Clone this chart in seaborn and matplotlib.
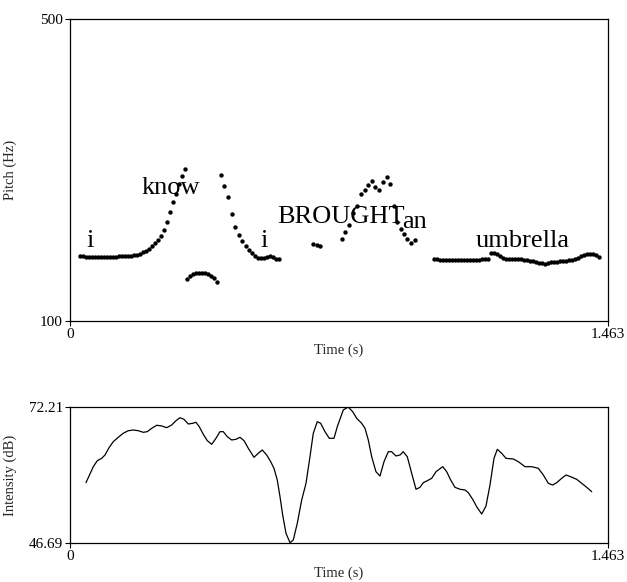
import numpy as np
import pandas as pd
import matplotlib
matplotlib.use("Agg")
import matplotlib.pyplot as plt
import seaborn as sns

# ---------------- data ----------------
# Pitch track (time in s, pitch in Hz), one list per voiced stretch
seg1_t = [0.0272, 0.0354, 0.0435, 0.0517, 0.0598, 0.0680, 0.0761, 0.0843, 0.0925, 0.1006,
          0.1088, 0.1169, 0.1251, 0.1332, 0.1414, 0.1496, 0.1577, 0.1659, 0.1740, 0.1822,
          0.1904, 0.1985, 0.2067, 0.2148, 0.2230, 0.2311, 0.2393, 0.2475, 0.2556, 0.2638,
          0.2719, 0.2801, 0.2882, 0.2964, 0.3046, 0.3127]
seg1_hz = [186.1, 185.4, 184.8, 184.8, 184.1, 184.1, 184.1, 184.1, 184.1, 184.8,
           184.8, 184.8, 184.8, 185.4, 185.4, 185.4, 186.1, 186.1, 186.8, 187.4,
           188.7, 190.7, 192.7, 195.4, 199.3, 203.3, 207.3, 212.6, 220.5, 231.1,
           244.4, 257.6, 268.2, 281.5, 292.1, 301.3]

seg2_t = [0.3182, 0.3263, 0.3345, 0.3426, 0.3508, 0.3589, 0.3671, 0.3753, 0.3834, 0.3916, 0.3997]
seg2_hz = [155.6, 159.6, 162.3, 163.6, 164.2, 164.2, 163.6, 162.3, 159.6, 157.0, 151.7]

seg3_t = [0.4106, 0.4188, 0.4296, 0.4405, 0.4487, 0.4596, 0.4677, 0.4786, 0.4868, 0.4949,
          0.5031, 0.5112, 0.5194, 0.5276, 0.5357, 0.5439, 0.5520, 0.5602, 0.5683]
seg3_hz = [293.4, 278.8, 264.2, 241.7, 224.5, 213.9, 206.0, 199.3, 194.0, 190.1,
           186.1, 183.4, 182.8, 183.4, 184.8, 186.1, 184.1, 181.5, 182.1]

seg4_t = [0.6608, 0.6717, 0.6798]
seg4_hz = [202.0, 200.0, 199.3]

seg5_t = [0.7396, 0.7478, 0.7587, 0.7696, 0.7804, 0.7913, 0.8022, 0.8104, 0.8212, 0.8294,
          0.8403, 0.8511, 0.8620, 0.8702, 0.8811, 0.8892, 0.9001, 0.9082, 0.9164, 0.9273, 0.9382]
seg5_hz = [208.6, 217.9, 227.2, 243.0, 252.3, 268.2, 273.5, 280.1, 285.4, 277.5,
           273.5, 284.1, 290.7, 281.5, 252.3, 231.1, 221.9, 215.2, 208.6, 203.3, 207.3]

seg6_t = [0.9898, 0.9980, 1.0061, 1.0143, 1.0225, 1.0306, 1.0388, 1.0469, 1.0551, 1.0632,
          1.0714, 1.0796, 1.0877, 1.0959, 1.1040, 1.1122, 1.1204, 1.1285, 1.1367,
          1.1448, 1.1530, 1.1611, 1.1693, 1.1775, 1.1856, 1.1938, 1.2019, 1.2101, 1.2182,
          1.2264, 1.2346, 1.2427, 1.2509, 1.2590, 1.2672, 1.2753, 1.2835, 1.2917, 1.2998,
          1.3080, 1.3161, 1.3243, 1.3325, 1.3406, 1.3488, 1.3569, 1.3651, 1.3732, 1.3814,
          1.3896, 1.3977, 1.4059, 1.4140, 1.4222, 1.4303, 1.4385]
seg6_hz = [181.5, 181.5, 180.8, 180.8, 180.8, 180.1, 180.1, 180.1, 180.1, 180.1,
           180.1, 180.1, 180.1, 180.1, 180.8, 180.8, 181.5, 181.5, 181.5,
           189.4, 190.1, 188.7, 185.4, 182.8, 182.1, 182.1, 182.1, 182.1, 182.1,
           181.5, 180.8, 180.1, 179.5, 178.8, 178.1, 176.8, 176.2, 175.5, 176.8,
           177.5, 178.1, 178.1, 178.8, 179.5, 179.5, 180.1, 180.8, 181.5, 183.4,
           185.4, 187.4, 188.7, 188.7, 188.1, 186.8, 184.8]

# Word labels: text, time (s), pitch (Hz) of the text baseline
words = ["i", "know", "i", "BROUGHT", "an", "umbrella"]
word_t = [0.054, 0.273, 0.529, 0.737, 0.937, 1.230]
word_hz = [198.0, 268.2, 198.0, 229.8, 223.2, 198.0]

# Intensity contour (time in s, intensity in dB)
int_t = [0.0435, 0.0544, 0.0634, 0.0742, 0.0862, 0.0952, 0.1069, 0.1177, 0.1313, 0.1449,
         0.1585, 0.1721, 0.1857, 0.1993, 0.2102, 0.2222, 0.2358, 0.2494, 0.2630, 0.2766,
         0.2882, 0.2991, 0.3100, 0.3217, 0.3337, 0.3426, 0.3516, 0.3625, 0.3734, 0.3853,
         0.3970, 0.4079, 0.4169, 0.4277, 0.4397, 0.4514, 0.4623, 0.4732, 0.4849, 0.5004,
         0.5120, 0.5229, 0.5349, 0.5458, 0.5547, 0.5637, 0.5711, 0.5784, 0.5874, 0.5983,
         0.6072, 0.6181, 0.6301, 0.6418, 0.6526, 0.6616, 0.6725, 0.6817, 0.6934, 0.7051,
         0.7179, 0.7269, 0.7432, 0.7568, 0.7687, 0.7796, 0.7932, 0.8022, 0.8112, 0.8204,
         0.8321, 0.8430, 0.8539, 0.8656, 0.8748, 0.8865, 0.8974, 0.9063, 0.9172, 0.9292,
         0.9409, 0.9518, 0.9607, 0.9716, 0.9836, 0.9953, 1.0135, 1.0244, 1.0352, 1.0469,
         1.0605, 1.0741, 1.0831, 1.0950, 1.1059, 1.1195, 1.1312, 1.1421, 1.1530, 1.1620,
         1.1739, 1.1856, 1.2055, 1.2191, 1.2373, 1.2555, 1.2735, 1.2871, 1.3007, 1.3126,
         1.3235, 1.3371, 1.3488, 1.3615, 1.3779, 1.3915, 1.4051, 1.4187]
int_db = [58.01, 59.64, 61.01, 62.13, 62.58, 63.20, 64.65, 65.70, 66.52, 67.28,
          67.76, 67.89, 67.76, 67.46, 67.58, 68.21, 68.78, 68.65, 68.33, 68.83,
          69.64, 70.20, 69.90, 69.02, 69.15, 69.34, 68.51, 67.09, 65.89, 65.21,
          66.34, 67.58, 67.58, 66.64, 66.02, 66.15, 66.52, 65.89, 64.46, 62.77,
          63.52, 64.14, 63.20, 61.95, 60.71, 58.51, 55.38, 51.94, 48.51, 46.75,
          47.25, 50.39, 54.76, 57.89, 62.88, 67.28, 69.45, 69.15, 67.58, 66.34,
          66.34, 68.51, 71.65, 72.21, 71.33, 70.09, 69.15, 68.21, 66.02, 62.88,
          60.07, 59.26, 61.95, 63.82, 63.82, 63.02, 63.20, 63.82, 62.88, 59.77,
          56.77, 57.14, 58.01, 58.38, 58.83, 60.07, 61.01, 60.07, 58.51, 57.14,
          56.77, 56.64, 56.13, 54.89, 53.50, 52.13, 53.63, 57.57, 62.58, 64.27,
          63.52, 62.58, 62.45, 61.95, 61.01, 61.01, 60.71, 59.45, 57.89, 57.57,
          58.01, 58.83, 59.45, 59.13, 58.64, 57.89, 57.14, 56.32]

t_max = 1.463
pitch_min, pitch_max = 100, 500
int_min, int_max = 46.69, 72.21

# ---------------- plotting ----------------
sns.set_style("white")
plt.rcParams["font.family"] = ["Liberation Serif", "DejaVu Serif"]

pitch_df = pd.DataFrame({
    "time": seg1_t + seg2_t + seg3_t + seg4_t + seg5_t + seg6_t,
    "hz": seg1_hz + seg2_hz + seg3_hz + seg4_hz + seg5_hz + seg6_hz,
})
int_df = pd.DataFrame({"time": int_t, "db": int_db})

fig = plt.figure(figsize=(6.27, 5.82), dpi=100)
ax1 = fig.add_axes([0.1116, 0.4485, 0.8581, 0.5189])
ax2 = fig.add_axes([0.1116, 0.0670, 0.8581, 0.2337])

sns.scatterplot(data=pitch_df, x="time", y="hz", ax=ax1, color="black",
                s=10, linewidth=0, legend=False)
for w, wt, wh in zip(words, word_t, word_hz):
    ax1.text(wt, wh, w, ha="center", va="baseline", fontsize=19, color="black")

ax1.set_xlim(0, t_max)
ax1.set_ylim(pitch_min, pitch_max)
ax1.set_xticks([0, t_max])
ax1.set_xticklabels(["0", "1.463"])
ax1.set_yticks([pitch_min, pitch_max])
ax1.set_yticklabels(["100", "500"])
ax1.set_xlabel("Time (s)", fontsize=10.5)
ax1.set_ylabel("Pitch (Hz)", fontsize=10.5)
ax1.xaxis.set_label_coords(0.5, -0.075)
ax1.yaxis.set_label_coords(-0.098, 0.5)

sns.lineplot(data=int_df, x="time", y="db", ax=ax2, color="black",
             linewidth=0.9, estimator=None, sort=False)
ax2.set_xlim(0, t_max)
ax2.set_ylim(int_min, int_max)
ax2.set_xticks([0, t_max])
ax2.set_xticklabels(["0", "1.463"])
ax2.set_yticks([int_min, int_max])
ax2.set_yticklabels(["46.69", "72.21"])
ax2.set_xlabel("Time (s)", fontsize=10.5)
ax2.set_ylabel("Intensity (dB)", fontsize=10.5)
ax2.xaxis.set_label_coords(0.5, -0.17)
ax2.yaxis.set_label_coords(-0.098, 0.5)

for ax in (ax1, ax2):
    for sp in ax.spines.values():
        sp.set_visible(True)
        sp.set_color("black")
        sp.set_linewidth(0.9)
    ax.tick_params(axis="both", direction="out", length=3.5, width=0.8,
                   pad=1.5, labelsize=11, colors="black", bottom=True, left=True)

fig.savefig("out.png", dpi=100, facecolor="white")
